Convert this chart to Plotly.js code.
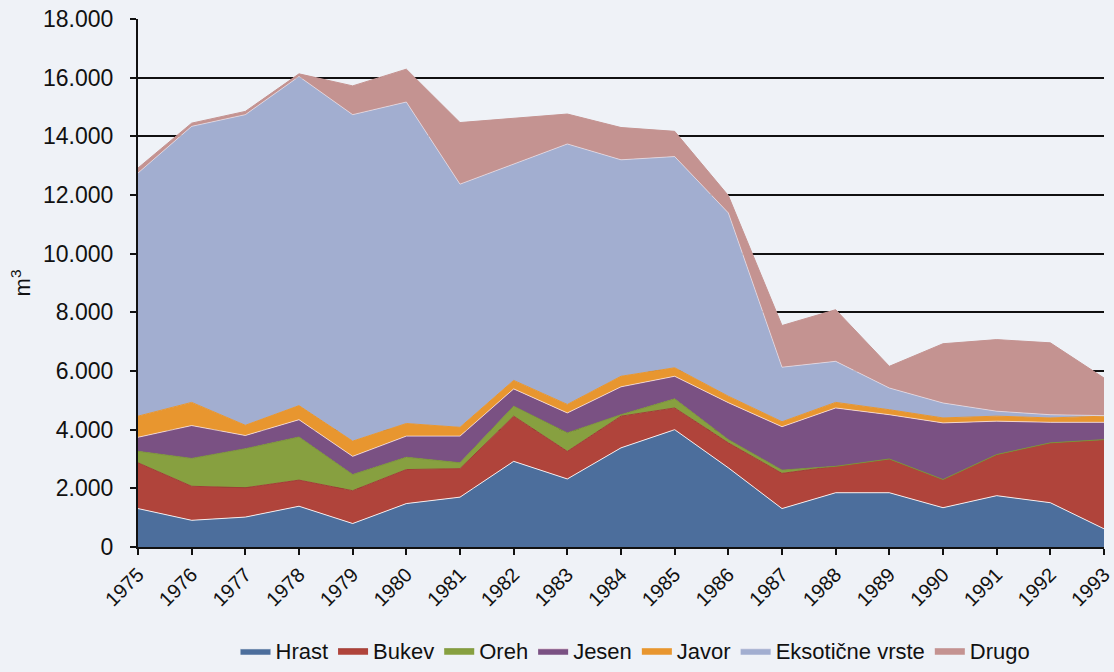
<!DOCTYPE html>
<html>
<head>
<meta charset="utf-8">
<script src="https://cdn.plot.ly/plotly-3.0.1.min.js"></script>
<style>
  html, body { margin: 0; padding: 0; background: #eff2f7; }
  #chart { width: 1114px; height: 672px; }
</style>
</head>
<body>
<div id="chart"></div>
<script>
const years = [1975,1976,1977,1978,1979,1980,1981,1982,1983,1984,1985,1986,1987,1988,1989,1990,1991,1992,1993];

const hrast  = [1310, 910,1020,1390, 800,1480,1700,2920,2320,3380,4000,2700,1310,1850,1850,1340,1750,1510, 620];
const bukev  = [1560,1160,1000, 890,1120,1160, 970,1540, 940,1080, 740, 850,1200, 900,1150, 960,1400,2040,3040];
const oreh   = [ 390, 950,1330,1470, 550, 420, 200, 340, 630,  50, 310, 110, 110,   0,   0,   0,   0,   0,   0];
const jesen  = [ 480,1120, 450, 590, 620, 720, 910, 590, 680, 950, 770,1260,1480,1990,1510,1930,1140, 700, 590];
const javor  = [ 720, 790, 350, 480, 520, 430, 300, 290, 290, 360, 290, 220, 170, 190, 170, 170, 170, 150, 210];
const eksot  = [8290,9410,10590,11220,11130,10960,8290,7380,8880,7380,7200,6250,1860,1400, 740, 510, 170, 110,  20];
const drugo  = [ 170, 110, 110,  90, 980,1120,2100,1560,1020,1100, 860, 590,1420,1760, 740,2020,2440,2450,1280];

const seriesNames = ['Hrast','Bukev','Oreh','Jesen','Javor','Eksotične vrste','Drugo'];
const seriesData = [hrast, bukev, oreh, jesen, javor, eksot, drugo];
const fillColors = ['#4c6e9c','#b0443b','#87a040','#7a5183','#e8962f','#a2aed0','#c49391'];
const lineColors = ['rgba(255,255,255,0.85)','#a03e36','#7c9538','rgba(255,235,240,0.7)','#e8962f','rgba(240,235,245,0.6)','#c49391'];

const traces = seriesNames.map((name, i) => ({
  type: 'scatter',
  mode: 'lines',
  name: name,
  x: years,
  y: seriesData[i],
  stackgroup: 'one',
  fillcolor: fillColors[i],
  line: { color: lineColors[i], width: 1 },
  hoverinfo: 'x+y+name'
}));

const layout = {
  width: 1114,
  height: 672,
  paper_bgcolor: '#eff2f7',
  plot_bgcolor: '#eff2f7',
  separators: ',.',
  margin: { l: 138, r: 10, t: 19, b: 125, autoexpand: false },
  font: { family: 'Liberation Sans, Arial, sans-serif', color: '#111', size: 22 },
  showlegend: true,
  legend: {
    orientation: 'h',
    x: 0.515, xanchor: 'center',
    y: -0.2367, yanchor: 'bottom',
    font: { size: 22, color: '#111' },
    traceorder: 'normal',
    itemwidth: 30,
    bgcolor: 'rgba(0,0,0,0)'
  },
  xaxis: {
    type: 'linear',
    range: [1975, 1993],
    tickmode: 'array',
    tickvals: years,
    ticktext: years.map(String),
    tickangle: -45,
    ticks: 'outside',
    ticklen: 6,
    tickwidth: 2,
    tickcolor: '#111',
    showline: true,
    linecolor: '#111',
    linewidth: 2,
    showgrid: false,
    zeroline: false,
    ticklabeloverflow: 'allow',
    tickfont: { size: 20, color: '#111' }
  },
  yaxis: {
    range: [0, 18000],
    tickmode: 'linear',
    tick0: 0,
    dtick: 2000,
    tickformat: ',d',
    ticks: 'outside',
    ticklen: 6,
    tickwidth: 2,
    tickcolor: '#111',
    ticklabelstandoff: 12,
    showline: true,
    linecolor: '#111',
    linewidth: 2,
    showgrid: true,
    gridcolor: '#111',
    gridwidth: 2,
    zeroline: false,
    tickfont: { size: 23, color: '#111' },
    title: { text: 'm<sup>3</sup>', font: { size: 22, color: '#111' }, standoff: 6 }
  }
};

Plotly.newPlot('chart', traces, layout, { displayModeBar: false, staticPlot: true });
</script>
</body>
</html>
